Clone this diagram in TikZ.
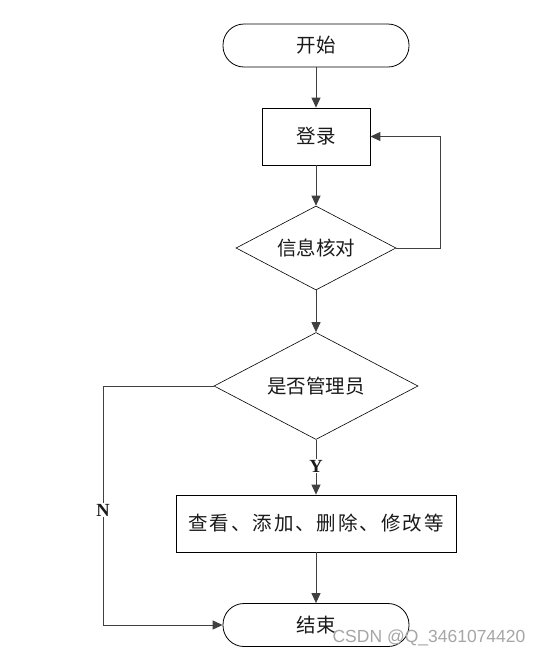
\documentclass[tikz,border=0pt]{standalone}
\usepackage{fontspec}
\usepackage{xcolor}
\usetikzlibrary{positioning,arrows.meta,shapes.geometric}
\newfontfamily\cjk{Noto Sans CJK SC}
\newfontfamily\cjkwide[LetterSpace=10]{Noto Sans CJK SC}
\newfontfamily\marksans{Liberation Sans}
\newfontfamily\markserif{Liberation Serif}
\definecolor{LineGray}{HTML}{404040}
\definecolor{TextDark}{HTML}{1A1A1A}

\begin{document}
\begin{tikzpicture}[x=1pt,y=-1pt,
    every node/.style={font=\cjk\fontsize{19.5}{22}\selectfont, text=TextDark},
    terminal/.style={draw=black, rounded corners=21pt, minimum width=186pt,
                     minimum height=43pt, line width=0.8pt},
    stepbox/.style={draw=black, minimum height=57pt, line width=0.8pt},
    decision/.style={draw=black, diamond, inner sep=0pt, aspect=1.9, line width=0.6pt},
    flow/.style={draw=LineGray, line width=0.9pt, -{Triangle[length=10pt,width=9pt]}},
    branch/.style={font=\markserif\fontsize{18.5}{20}\selectfont\bfseries, fill=white, inner sep=1pt}]
  \useasboundingbox (0,0) rectangle (544,657);
  \fill[white] (0,0) rectangle (544,657);

  % main column
  \node[terminal] (start) at (316,45.5) {开始};
  \node[stepbox, minimum width=108pt] (login) at (316,136.5) {登录};
  \node[decision, minimum width=160pt, minimum height=84pt] (check) at (316,248) {信息核对};
  \node[decision, minimum width=204pt, minimum height=107pt] (admin) at (316,386) {是否管理员};
  \node[stepbox, minimum width=280pt] (manage) at (316,523.5)
    {\cjkwide 查看、添加、删除、修改等};
  \node[terminal] (finish) at (316,625) {结束};
  \coordinate (loopback) at (440,136.5);
  \coordinate (nopath) at (103,625);

  % connectors
  \draw[flow] (start) -- (login);
  \draw[flow] (login) -- (check);
  \draw[flow] (check) -- (admin);
  \draw[flow] (admin) -- node[branch, pos=0.48] {Y} (manage);
  \draw[flow] (manage) -- (finish);
  \draw[flow] (check.east) -| (loopback) -- (login.east);
  \draw[flow] (admin.west) -| (nopath) -- (finish.west);
  \node[branch] (nlabel) at (103,510) {N};

  % watermark
  \node[font=\marksans\fontsize{17.5}{19}\selectfont, text=gray!70, anchor=east]
    (mark) at (529,638) {CSDN @Q\_3461074420};
\end{tikzpicture}
\end{document}
